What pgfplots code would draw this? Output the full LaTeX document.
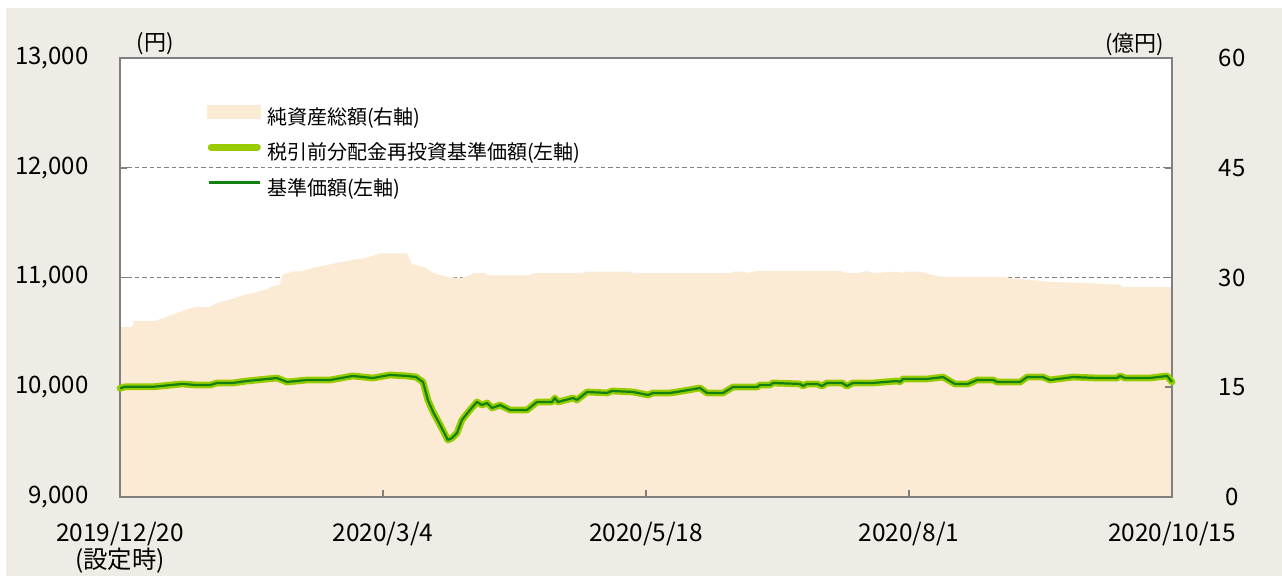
\documentclass[border=0pt]{standalone}
\usepackage{pgfplots}
\pgfplotsset{compat=1.18}
\usepackage{pgfplotstable}
\usepackage{fontspec}
\setmainfont{Noto Sans CJK JP}
\definecolor{bgc}{RGB}{239,236,229}
\definecolor{areac}{RGB}{252,235,212}
\definecolor{lgreen}{RGB}{153,204,0}
\definecolor{dgreen}{RGB}{16,128,16}
\definecolor{axgray}{RGB}{128,128,128}
\definecolor{gridgray}{RGB}{130,130,130}

\pgfplotstableread{
d v
0 9990
1.4 10004
9.4 10004
17.7 10030
22.0 10020
25.7 10020
27.7 10039
32.2 10039
36.2 10057
44.8 10084
47.6 10048
53.3 10066
59.9 10066
66.4 10103
72.1 10084
77.0 10112
81.8 10103
84.4 10093
86.4 10048
87.8 9884
89.3 9774
91.3 9656
93.5 9519
94.7 9538
96.1 9583
97.5 9702
99.8 9793
101.8 9866
103.2 9838
104.7 9856
106.1 9811
108.4 9838
111.2 9793
116.1 9793
118.9 9866
123.2 9866
124.0 9902
124.9 9866
129.2 9902
130.3 9884
133.2 9957
138.9 9948
140.3 9966
146.3 9957
150.6 9929
152.0 9948
156.8 9948
158.8 9957
165.4 9993
167.4 9948
172.0 9948
174.8 10002
181.7 10002
182.5 10020
185.4 10020
186.2 10039
193.9 10030
194.8 10011
195.9 10030
198.8 10030
200.2 10011
201.6 10039
205.9 10039
207.3 10011
209.0 10039
214.7 10039
221.6 10057
222.4 10048
223.3 10075
230.1 10075
234.7 10093
238.1 10030
241.8 10030
244.4 10066
249.0 10066
250.1 10048
256.7 10048
258.7 10093
263.2 10093
265.2 10066
271.8 10093
278.6 10084
284.3 10084
285.2 10103
286.6 10084
293.7 10084
298.6 10103
300 10048
}\navtable

\pgfplotstableread{
d a
0 23.2
3.4 23.2
4.0 24.05
10.0 24.05
17.1 25.3
19.4 25.7
22.0 26.0
25.7 26.0
27.7 26.5
32.2 27.1
35.1 27.6
39.1 28.0
41.9 28.4
43.6 28.8
45.6 29.0
46.2 30.3
49.3 30.8
52.2 30.9
55.0 31.3
59.0 31.7
62.7 32.1
66.4 32.4
70.4 32.7
74.1 33.3
81.8 33.3
83.3 31.8
87.0 31.4
89.3 30.6
93.3 30.1
97.0 29.9
99.8 30.3
100.7 30.6
104.1 30.6
104.9 30.3
116.9 30.3
117.8 30.6
132.0 30.6
133.2 30.8
145.4 30.8
146.3 30.6
174.0 30.6
174.8 30.8
177.7 30.8
178.8 30.6
181.7 30.9
205.3 30.9
207.3 30.6
210.2 30.6
213.0 30.9
214.7 30.6
221.6 30.8
223.3 30.6
224.4 30.8
228.1 30.8
233.8 30.1
250.9 30.1
258.6 29.7
265.2 29.4
277.5 29.2
285.2 29.0
286.0 28.7
300 28.7
}\areatable

\begin{document}
\begin{tikzpicture}
\fill[white] (0,0) rectangle (641pt,288pt);
\fill[bgc] (3pt,0) rectangle (641pt,284pt);
% right axis: net assets
\begin{axis}[
  at={(60pt,39.5pt)}, anchor=south west,
  scale only axis, width=526pt, height=219.5pt,
  xmin=0, xmax=300, ymin=0, ymax=60,
  xtick=\empty,
  ytick={0,15,30,45,60},
  yticklabel pos=right,
  ymajorgrids,
  major grid style={gridgray, line width=0.75pt, dash pattern=on 2.2pt off 1.5pt},
  major tick length=0pt,
  axis line style={draw=none},
  axis background/.style={fill=white},
  /pgf/number format/assume math mode=true,
  yticklabel style={font=\fontsize{12}{13}\selectfont, anchor=center, inner sep=0pt, xshift=30pt},
]
\addplot[fill=areac, draw=none] table[x=d, y=a] {\areatable} \closedcycle;
\end{axis}
% left axis: NAV
\begin{axis}[
  at={(60pt,39.5pt)}, anchor=south west,
  scale only axis, width=526pt, height=219.5pt,
  xmin=0, xmax=300, ymin=9000, ymax=13000,
  xtick={0,75,150,225,300},
  xticklabels={{2019/12/20\\(設定時)},{2020/3/4},{2020/5/18},{2020/8/1},{2020/10/15}},
  ytick={9000,10000,11000,12000,13000},
  scaled y ticks=false,
  tick align=inside,
  xtick pos=bottom,
  ytick pos=both,
  yticklabel pos=left,
  major tick length=3.5pt,
  tick style={axgray, line width=0.9pt},
  axis line style={axgray, line width=1.1pt},
  /pgf/number format/assume math mode=true,
  yticklabel={\pgfmathprintnumber[fixed, precision=0, 1000 sep={,}, assume math mode=true]{\tick}},
  yticklabel style={font=\fontsize{12}{13}\selectfont, inner sep=0pt, xshift=-15.5pt},
  xticklabel style={font=\fontsize{12.2}{12}\selectfont, align=center, inner sep=0pt, yshift=-12.5pt},
  legend style={at={(0.0827,0.893)}, anchor=north west, draw=none, fill=none,
    inner sep=0pt, row sep=7.6pt, column sep=3pt,
    font=\fontsize{10}{12}\selectfont,
    nodes={inner sep=0pt, text height=8pt, text depth=2pt}},
  legend cell align=left,
  legend image code/.code={\draw[#1] (1.7pt,3.3pt) -- (24.8pt,3.3pt);},
  clip=false,
]
\addlegendimage{legend image code/.code={\fill[areac] (0pt,0pt) rectangle (26.5pt,6.5pt);}}
\addlegendentry{純資産総額(右軸)}
\addplot[color=lgreen, line width=3.4pt, line join=round, line cap=round] table[x=d, y=v] {\navtable};
\addlegendentry{税引前分配金再投資基準価額(左軸)}
\addplot[color=dgreen, line width=1.1pt, line join=round,
  legend image code/.code={\draw[dgreen, line width=1.1pt] (0.5pt,3.3pt) -- (26pt,3.3pt);}] table[x=d, y=v] {\navtable};
\addlegendentry{基準価額(左軸)}
\node[font=\fontsize{11}{13}\selectfont] at (rel axis cs:0.0333,1.032) {(円)};
\node[font=\fontsize{11}{13}\selectfont] at (rel axis cs:0.9643,1.032) {(億円)};
\end{axis}
\end{tikzpicture}
\end{document}
